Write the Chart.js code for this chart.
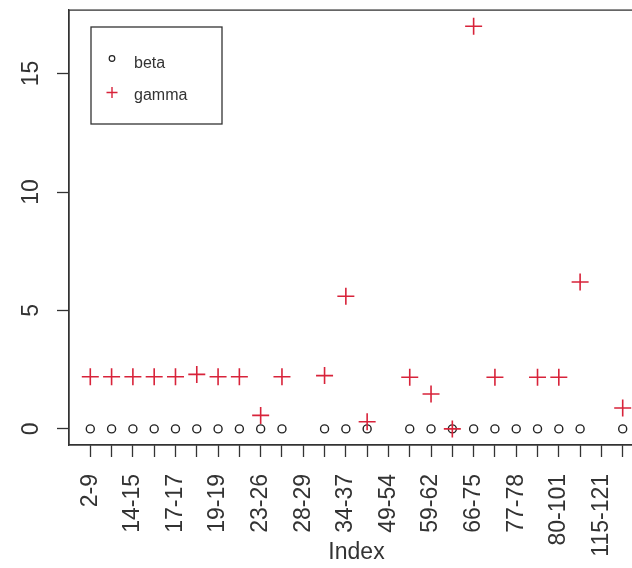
<!DOCTYPE html>
<html>
<head>
<meta charset="utf-8">
<script src="https://cdn.jsdelivr.net/npm/chart.js@4/dist/chart.umd.min.js"></script>
<style>
  html, body { margin: 0; padding: 0; background: #fff; overflow: hidden; }
  #wrap { width: 632px; height: 568px; overflow: hidden; position: relative; }
  canvas { display: block; }
</style>
</head>
<body>
<div id="wrap"><canvas id="c" width="680" height="568"></canvas></div>
<script>
// ---- data ----
const categories = ['2-9','','14-15','','17-17','','19-19','','23-26','','28-29','','34-37','','49-54','','59-62','','66-75','','77-78','','80-101','','115-121',''];
const betaValues  = [0,0,0,0,0,0,0,0,0,0,null,0,0,0,null,0,0,0,0,0,0,0,0,0,null,0];
const gammaValues = [2.2,2.2,2.2,2.2,2.2,2.3,2.2,2.2,0.57,2.2,null,2.25,5.6,0.3,null,2.18,1.47,0,17,2.18,null,2.18,2.18,6.2,null,0.88];
const yTickValues = [0,5,10,15];
const seriesNames = ['beta','gamma'];

const FONT = "'Liberation Sans', Arial, sans-serif";
const toPoints = arr => arr.map((v, i) => ({x: i + 1, y: v}));

const boxPlugin = {
  id: 'boxAndLegend',
  afterDraw(chart) {
    const ctx = chart.ctx, a = chart.chartArea;
    ctx.save();
    ctx.strokeStyle = '#333';
    ctx.lineWidth = 1.3;
    ctx.strokeRect(a.left, a.top, a.right - a.left, a.bottom - a.top);
    // legend
    const lx = 91, ly = 27, lw = 131, lh = 97;
    ctx.fillStyle = '#fff';
    ctx.fillRect(lx, ly, lw, lh);
    ctx.strokeRect(lx, ly, lw, lh);
    const ds = chart.data.datasets;
    ctx.font = '16px ' + FONT;
    ctx.fillStyle = '#333';
    ctx.textBaseline = 'alphabetic';
    ctx.textAlign = 'left';
    // beta
    ctx.beginPath();
    ctx.strokeStyle = ds[0].borderColor;
    ctx.lineWidth = 1.2;
    ctx.arc(112, 58.5, 2.8, 0, Math.PI * 2);
    ctx.stroke();
    ctx.fillText(ds[0].label, 134, 68);
    // gamma
    ctx.beginPath();
    ctx.strokeStyle = ds[1].borderColor;
    ctx.lineWidth = 1.4;
    ctx.moveTo(106.5, 92.5); ctx.lineTo(117.5, 92.5);
    ctx.moveTo(112, 87); ctx.lineTo(112, 98);
    ctx.stroke();
    ctx.fillText(ds[1].label, 134, 100);
    ctx.restore();
  }
};

new Chart(document.getElementById('c'), {
  type: 'scatter',
  data: {
    datasets: [
      {
        label: seriesNames[0],
        data: toPoints(betaValues),
        pointStyle: 'circle',
        pointRadius: 4,
        pointBorderWidth: 1.4,
        borderColor: '#222',
        backgroundColor: 'rgba(0,0,0,0)',
        order: 2
      },
      {
        label: seriesNames[1],
        data: toPoints(gammaValues),
        pointStyle: 'cross',
        pointRadius: 8.5,
        pointBorderWidth: 1.6,
        borderColor: '#d8233a',
        backgroundColor: '#d8233a',
        order: 1
      }
    ]
  },
  options: {
    responsive: false,
    animation: false,
    devicePixelRatio: 1,
    layout: { padding: { left: 0, top: 10, right: 36, bottom: 0 } },
    plugins: { legend: { display: false }, tooltip: { enabled: false } },
    scales: {
      x: {
        type: 'linear',
        min: 0,
        max: 27,
        afterFit(s) { s.height = 123; s.paddingLeft = 0; s.paddingRight = 0; s.paddingTop = 0; s.paddingBottom = 0; },
        afterBuildTicks(s) { s.ticks = categories.map((c, i) => ({value: i + 1})); },
        ticks: {
          autoSkip: false,
          minRotation: 90,
          maxRotation: 90,
          padding: 17,
          color: '#333',
          font: { family: FONT, size: 23 },
          callback: (v) => categories[v - 1] ?? ''
        },
        grid: { display: true, drawOnChartArea: false, drawTicks: true, tickLength: 12, tickWidth: 1.3, tickColor: '#333' },
        border: { display: true, color: '#333', width: 1.3 },
        title: { display: true, text: 'Index', color: '#333', font: { family: FONT, size: 23 }, padding: { top: 0, bottom: 2 } }
      },
      y: {
        type: 'linear',
        min: -0.68,
        max: 17.68,
        afterFit(s) { s.width = 69; s.paddingTop = 0; s.paddingBottom = 0; s.paddingLeft = 0; s.paddingRight = 0; },
        afterBuildTicks(s) { s.ticks = yTickValues.map(v => ({value: v})); },
        ticks: {
          minRotation: 90,
          maxRotation: 90,
          crossAlign: 'center',
          padding: 13,
          color: '#333',
          font: { family: FONT, size: 23 }
        },
        grid: { display: true, drawOnChartArea: false, drawTicks: true, tickLength: 12, tickWidth: 1.3, tickColor: '#333' },
        border: { display: true, color: '#333', width: 1.3 }
      }
    }
  },
  plugins: [boxPlugin]
});
</script>
</body>
</html>
